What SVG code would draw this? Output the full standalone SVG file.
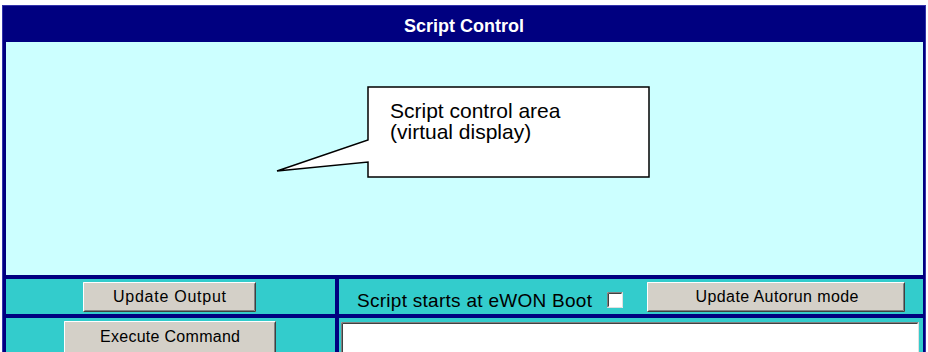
<svg xmlns="http://www.w3.org/2000/svg" width="928" height="352" viewBox="0 0 928 352">
  <style>
    .navy { fill: #000080; }
    .screen { fill: #CCFFFF; }
    .cell { fill: #33CCCC; }
    .btn { fill: #D4D0C8; }
    .hi { fill: none; stroke: #FFFFFF; stroke-width: 1; }
    .sh { fill: none; stroke: #404040; stroke-width: 1; }
    .sh2 { fill: none; stroke: #808080; stroke-width: 1; }
    .btxt { font-family: "Liberation Sans", Arial, sans-serif; font-size: 16px; fill: #000000; text-anchor: middle; }
    .lbl { font-family: "Liberation Sans", Arial, sans-serif; font-size: 19px; fill: #000000; }
    .title { font-family: "Liberation Sans", Arial, sans-serif; font-size: 18px; font-weight: bold; fill: #FFFFFF; text-anchor: middle; }
    .call { font-family: "Liberation Sans", Arial, sans-serif; font-size: 21px; fill: #000000; }
  </style>

  <g id="frame">
    <rect x="2" y="5" width="924" height="347" class="navy"/>
    <rect x="2.5" y="5.5" width="923" height="350" fill="none" stroke="#3333AA" stroke-width="1"/>
  </g>

  <g id="title-bar">
    <text x="464" y="32" class="title">Script Control</text>
  </g>

  <g id="script-area">
    <rect x="6" y="42" width="917" height="233" class="screen"/>
  </g>

  <g id="row1-left">
    <rect x="6" y="279" width="329" height="35" class="cell"/>
  </g>
  <g id="row1-right">
    <rect x="339" y="279" width="584" height="35" class="cell"/>
  </g>
  <g id="row2-left">
    <rect x="6" y="318" width="329" height="34" class="cell"/>
  </g>
  <g id="row2-right">
    <rect x="339" y="318" width="584" height="34" class="cell"/>
  </g>

  <g id="btn-update-output">
    <rect x="83" y="282" width="173" height="30" class="btn"/>
    <path d="M83.5,311.5 V282.5 H255.5" class="hi"/>
    <path d="M84.5,310.5 H254.5 V283.5" class="sh2"/>
    <path d="M83.5,311.5 H255.5 V282.5" class="sh"/>
    <text x="169.5" y="302" class="btxt" textLength="113" lengthAdjust="spacing">Update Output</text>
  </g>

  <g id="btn-execute-command">
    <rect x="64" y="321" width="212" height="31" class="btn"/>
    <path d="M64.5,352 V321.5 H275.5" class="hi"/>
    <path d="M275.5,321.5 V352" class="sh"/>
    <path d="M274.5,322.5 V352" class="sh2"/>
    <text x="170" y="342" class="btxt" textLength="140" lengthAdjust="spacing">Execute Command</text>
  </g>

  <g id="autorun-label">
    <text x="357" y="307" class="lbl" textLength="235" lengthAdjust="spacing">Script starts at eWON Boot</text>
  </g>

  <g id="autorun-checkbox">
    <rect x="607" y="292" width="16" height="16" fill="#FFFFFF"/>
    <path d="M607.5,307.5 V292.5 H622.5" fill="none" stroke="#808080"/>
    <path d="M608.5,306.5 V293.5 H621.5" fill="none" stroke="#404040"/>
    <path d="M607.5,307.5 H622.5 V292.5" fill="none" stroke="#E0E0E0"/>
  </g>

  <g id="btn-update-autorun">
    <rect x="647" y="282" width="258" height="30" class="btn"/>
    <path d="M647.5,311.5 V282.5 H904.5" class="hi"/>
    <path d="M648.5,310.5 H903.5 V283.5" class="sh2"/>
    <path d="M647.5,311.5 H904.5 V282.5" class="sh"/>
    <text x="777" y="302" class="btxt" textLength="163" lengthAdjust="spacing">Update Autorun mode</text>
  </g>

  <g id="command-input">
    <rect x="341" y="322" width="578" height="30" fill="#FFFFFF"/>
    <path d="M341.5,352 V322.5 H918.5" fill="none" stroke="#808080"/>
    <path d="M342.5,352 V323.5 H917.5" fill="none" stroke="#404040"/>
    <path d="M918.5,322.5 V352" fill="none" stroke="#E0E0E0"/>
  </g>

  <g id="callout">
    <path d="M368,87 H649 V177 H368 V162 L277,171 L368,140 Z" fill="#FFFFFF" stroke="#000000" stroke-width="1.5" stroke-linejoin="miter"/>
    <text x="390" y="118" class="call">Script control area</text>
    <text x="390" y="139" class="call">(virtual display)</text>
  </g>

  <g id="connectors"/>
</svg>
